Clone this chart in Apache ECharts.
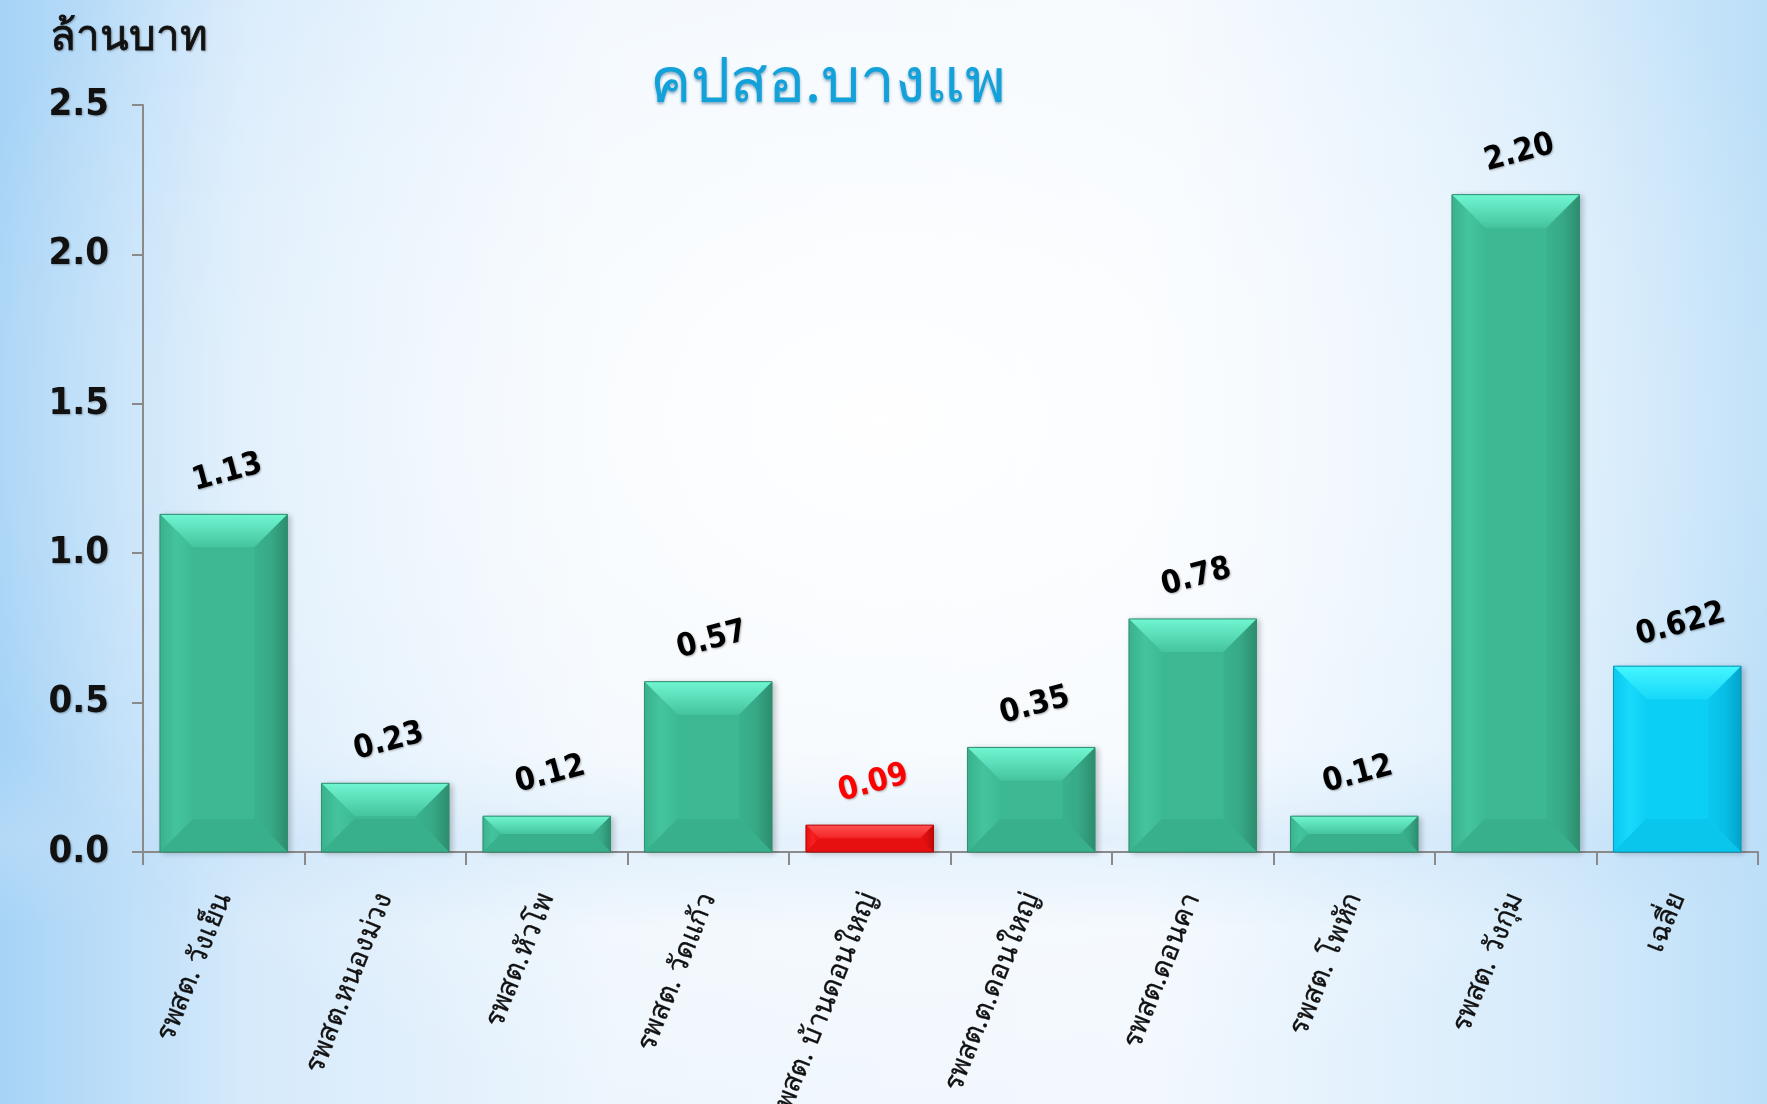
<!DOCTYPE html>
<html lang="th">

<head>
    <meta charset="UTF-8" />
    <title>คปสอ.บางแพ</title>
    <script src="https://cdn.jsdelivr.net/npm/echarts@6/dist/echarts.min.js"></script>
    <style>
        html, body { margin: 0; padding: 0; }
        body {
            width: 1767px; height: 1104px; overflow: hidden;
            background:
                radial-gradient(ellipse 55% 65% at 50% 38%, rgba(255,255,255,0.95), rgba(255,255,255,0) 100%),
                linear-gradient(to bottom, rgba(190,222,248,0) 0%, rgba(190,222,248,0) 68%, rgba(190,222,248,0.55) 76%, rgba(190,222,248,0) 84%),
                linear-gradient(to right, #a6d3f6 0%, #d6eafb 14%, #eef6fd 35%, #f2f8fe 65%, #d6ebfb 88%, #bcdff8 100%);
        }
        #chart { width: 1767px; height: 1104px; }
    </style>
</head>

<body>
    <div id="chart"></div>
    <script>
        // ข้อมูล (ล้านบาท)
        var categories = ["รพสต. วังเย็น", "รพสต.หนองม่วง", "รพสต.หัวโพ", "รพสต. วัดแก้ว", "รพสต. บ้านดอนใหญ่",
            "รพสต.ต.ดอนใหญ่", "รพสต.ดอนคา", "รพสต. โพหัก", "รพสต. วังกุ่ม", "เฉลี่ย"];
        var values = [1.13, 0.23, 0.12, 0.57, 0.09, 0.35, 0.78, 0.12, 2.20, 0.622];
        var valueText = ["1.13", "0.23", "0.12", "0.57", "0.09", "0.35", "0.78", "0.12", "2.20", "0.622"];
        var barKind = ["g", "g", "g", "g", "r", "g", "g", "g", "g", "c"];
        var yTicks = [0, 0.5, 1.0, 1.5, 2.0, 2.5];

        // สีแต่ละแบบ: หน้า, ขอบบน, ขอบซ้าย, ขอบขวา, ขอบล่าง
        var colors = {
            g: { face: "#3cb893", top: ["#70f6d2", "#45c49e"], left: ["#39b28d", "#44c49e", "#3dba95"], right: ["#3ab28e", "#37a987", "#2c8d6d"], bottom: "#39b08c", line: "#2f8f70" },
            r: { face: "#ee1212", top: ["#ff5050", "#f22424"], left: ["#e81010", "#f71f1f", "#ee1212"], right: ["#e81111", "#dc0e0e", "#bb0909"], bottom: "#e61010", line: "#b30808" },
            c: { face: "#0ccff5", top: ["#45f6ff", "#16d8f8"], left: ["#0ac8ef", "#19dafb", "#0ccff5"], right: ["#0bc9f0", "#08bfe6", "#04a3c9"], bottom: "#0ac6ec", line: "#0399bd" }
        };

        var barData = values.map(function (v, i) {
            return {
                value: v,
                itemStyle: { color: colors[barKind[i]].face, borderColor: colors[barKind[i]].line, borderWidth: 1 },
                label: { color: barKind[i] == "r" ? "#ff0000" : "#000000" }
            };
        });

        function grad(x2, y2, cs) {
            var stops = cs.map(function (c, k) { return { offset: k / (cs.length - 1), color: c }; });
            return new echarts.graphic.LinearGradient(0, 0, x2, y2, stops);
        }

        // วาดขอบนูน (bevel) ตามตำแหน่งแท่ง
        function renderBevel(params, api) {
            var i = params.dataIndex;
            var base = api.coord([i, 0]);
            var top = api.coord([i, api.value(1)]);
            var w = api.size([1, 0])[0] * 0.79;
            var x0 = base[0] - w / 2, x1 = base[0] + w / 2;
            var y0 = top[1], y1 = base[1];
            var h = y1 - y0;
            var b = Math.min(33, h / 2, w / 2);
            var c = colors[barKind[i]];
            return {
                type: "group",
                children: [
                    { type: "polygon", shape: { points: [[x0, y0], [x1, y0], [x1 - b, y0 + b], [x0 + b, y0 + b]] },
                      style: { fill: grad(0, 1, c.top) } },
                    { type: "polygon", shape: { points: [[x0, y0], [x0 + b, y0 + b], [x0 + b, y1 - b], [x0, y1]] },
                      style: { fill: grad(1, 0, c.left) } },
                    { type: "polygon", shape: { points: [[x1, y0], [x1, y1], [x1 - b, y1 - b], [x1 - b, y0 + b]] },
                      style: { fill: grad(1, 0, c.right) } },
                    { type: "polygon", shape: { points: [[x0, y1], [x1, y1], [x1 - b, y1 - b], [x0 + b, y1 - b]] },
                      style: { fill: c.bottom } },
                    { type: "rect", shape: { x: x0, y: y0, width: w, height: h },
                      style: { fill: "none", stroke: c.line, lineWidth: 1 } }
                ]
            };
        }

        var thaiFont = "Tahoma, 'Noto Sans', 'DejaVu Sans', sans-serif";
        var numFont = "'DejaVu Sans Condensed', 'DejaVu Sans', sans-serif";
        var myChart = echarts.init(document.getElementById("chart"));
        var option = {
            backgroundColor: "transparent",
            animation: false,
            title: [
                {
                    text: "คปสอ.บางแพ",
                    left: 823, top: 48, textAlign: "center",
                    textStyle: {
                        fontFamily: thaiFont, fontSize: 62, fontWeight: "normal", color: "#13a1d9",
                        textShadowColor: "rgba(0,70,120,0.45)", textShadowBlur: 3, textShadowOffsetY: 2
                    }
                },
                {
                    text: "ล้านบาท",
                    left: 45, top: 12,
                    textStyle: {
                        fontFamily: thaiFont, fontSize: 42, fontWeight: "normal", color: "#111111",
                        textBorderColor: "#111111", textBorderWidth: 0.8,
                        textShadowColor: "rgba(0,0,0,0.25)", textShadowBlur: 2, textShadowOffsetX: 1, textShadowOffsetY: 1
                    }
                }
            ],
            grid: { left: 143, right: 9, top: 105, bottom: 252, containLabel: false, outerBoundsMode: "none" },
            xAxis: {
                type: "category",
                data: categories,
                axisLine: { lineStyle: { color: "#8a8a8a", width: 2 } },
                axisTick: { show: true, length: 13, lineStyle: { color: "#8a8a8a", width: 2 } },
                axisLabel: {
                    interval: 0, rotate: 68, margin: 42,
                    fontFamily: thaiFont, fontSize: 28, color: "#111111",
                    textBorderColor: "#111111", textBorderWidth: 0.3
                }
            },
            yAxis: {
                type: "value",
                min: yTicks[0], max: yTicks[yTicks.length - 1], interval: 0.5,
                axisLine: { show: true, lineStyle: { color: "#8a8a8a", width: 2 } },
                axisTick: { show: true, length: 11, lineStyle: { color: "#8a8a8a", width: 2 } },
                splitLine: { show: false },
                axisLabel: {
                    margin: 34,
                    fontFamily: numFont,
                    fontSize: 38, fontWeight: "bold", color: "#111111",
                    textShadowColor: "rgba(0,0,0,0.3)", textShadowBlur: 2, textShadowOffsetX: 1, textShadowOffsetY: 1,
                    formatter: function (v) { return v.toFixed(1); }
                }
            },
            series: [
                {
                    type: "bar",
                    data: barData,
                    barCategoryGap: "21%",
                    itemStyle: { shadowColor: "rgba(0,0,0,0.22)", shadowBlur: 6, shadowOffsetX: 3, shadowOffsetY: 1 },
                    label: {
                        show: true, position: "top", distance: 24, rotate: 15, offset: [8, 0],
                        fontFamily: numFont,
                        fontSize: 32, fontWeight: "bold",
                        textShadowColor: "rgba(0,0,0,0.3)", textShadowBlur: 2, textShadowOffsetX: 1, textShadowOffsetY: 1,
                        formatter: function (p) { return valueText[p.dataIndex]; }
                    },
                    z: 2
                },
                {
                    type: "custom",
                    renderItem: renderBevel,
                    data: values.map(function (v, i) { return [i, v]; }),
                    silent: true,
                    z: 3
                }
            ]
        };
        myChart.setOption(option);
    </script>
</body>

</html>
